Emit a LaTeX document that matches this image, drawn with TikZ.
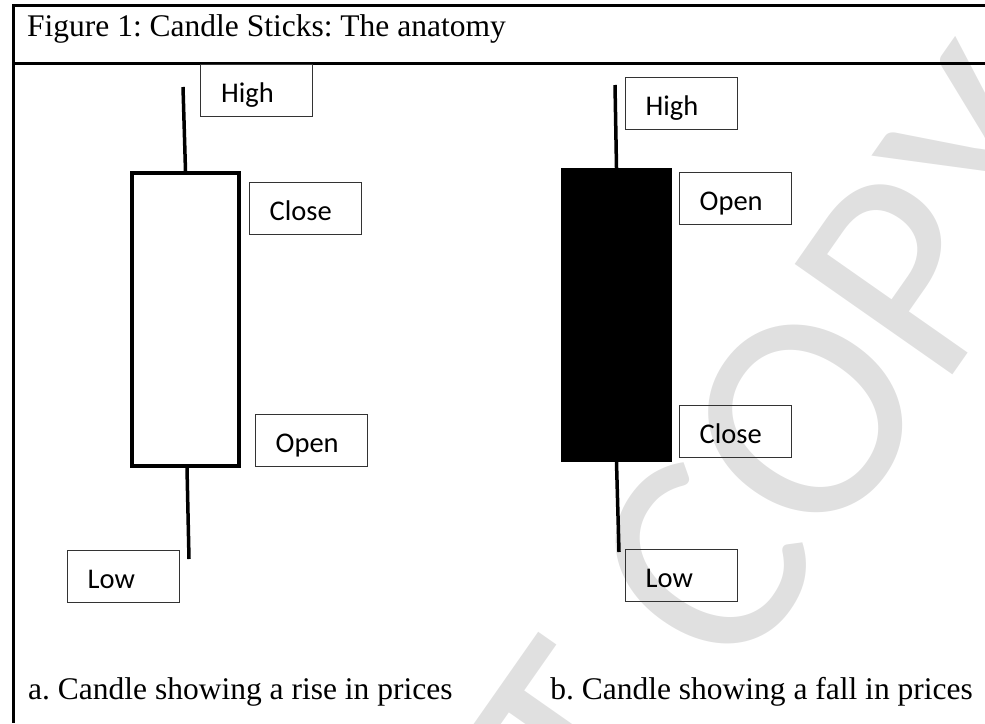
\documentclass[tikz,border=0pt]{standalone}
\usepackage{fontspec}
\setmainfont{Liberation Serif}
\newfontfamily\lblfont{Carlito}
\usetikzlibrary{calc}
\frenchspacing
\begin{document}
\begin{tikzpicture}[x=1pt,y=-1pt,
  frameline/.style={line width=3pt},
  lblbox/.style={draw=black!80, line width=1pt, minimum width=112pt, minimum height=52pt, inner sep=0pt},
  lbltext/.style={anchor=base west, inner sep=0pt, font=\lblfont\fontsize{28.5}{34}\selectfont},
  wick/.style={line width=3.5pt},
  captext/.style={inner sep=0pt, font=\fontsize{31.5}{37}\selectfont},
  wmark/.style={text=black!12, inner sep=0pt, font=\lblfont\fontsize{300}{300}\selectfont}]
\useasboundingbox (0,0) rectangle (985,723);
% watermark
\begin{scope}
\clip (0,0) rectangle (985,723);
\node[wmark, rotate=55] (wm) at (545,790) {DO NOT COPY};
\end{scope}
% frame
\draw[frameline] (985,5.5) -- (13.5,5.5) -- (13.5,723);
\draw[frameline] (13.5,63) -- (985,63);
\node[captext, anchor=base west] (title) at (27,36) {Figure 1: Candle Sticks: The anatomy};
% candle A (rise)
\node[draw, line width=4pt, minimum width=107pt, minimum height=293pt, inner sep=0pt] (bodyA) at (185.5,319.5) {};
\coordinate (hiA) at (183,87);
\coordinate (loA) at (189,559);
\draw[wick] (hiA) -- (bodyA.north);
\draw[wick] ([xshift=1.5pt]bodyA.south) -- (loA);
\node[lblbox] (bAH) at (256.5,90.5) {};
\node[lblbox] (bAC) at (305,208) {};
\node[lblbox] (bAO) at (311,440) {};
\node[lblbox] (bAL) at (123,576) {};
\node[lbltext] (tAH) at ($(bAH.west)+(21,12)$) {High};
\node[lbltext] (tAC) at ($(bAC.west)+(21,12)$) {Close};
\node[lbltext] (tAO) at ($(bAO.west)+(21,12)$) {Open};
\node[lbltext] (tAL) at ($(bAL.west)+(21,12)$) {Low};
% candle B (fall)
\node[fill=black, minimum width=111pt, minimum height=294pt, inner sep=0pt] (bodyB) at (616.5,315) {};
\coordinate (hiB) at (615,85);
\coordinate (loB) at (619,552);
\draw[wick] (hiB) -- (bodyB.north);
\draw[wick] (bodyB.south) -- (loB);
\node[lblbox] (bBH) at (681,103) {};
\node[lblbox] (bBO) at (735,198) {};
\node[lblbox] (bBC) at (735,431) {};
\node[lblbox] (bBL) at (681,575) {};
\node[lbltext] (tBH) at ($(bBH.west)+(21,12)$) {High};
\node[lbltext] (tBO) at ($(bBO.west)+(21,12)$) {Open};
\node[lbltext] (tBC) at ($(bBC.west)+(21,12)$) {Close};
\node[lbltext] (tBL) at ($(bBL.west)+(21,12)$) {Low};
% captions
\node[captext, anchor=base west] (capA) at (28,699) {a. Candle showing a rise in prices};
\node[captext, anchor=base east] (capB) at (973,699) {b. Candle showing a fall in prices};
\end{tikzpicture}
\end{document}
